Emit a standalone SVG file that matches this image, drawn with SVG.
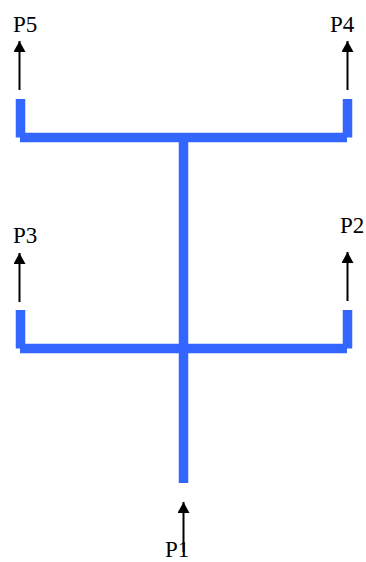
<svg xmlns="http://www.w3.org/2000/svg" width="366" height="562" viewBox="0 0 366 562">
<defs>
<style>
.pipe{stroke:#3366ff;stroke-width:9.5;fill:none;stroke-linecap:butt}
.arr{stroke:#000;stroke-width:2;fill:none}
.lbl{font-family:"Liberation Serif","Times New Roman",serif;font-size:23px;fill:#000}
</style>
<marker id="ah" markerUnits="userSpaceOnUse" markerWidth="11" markerHeight="12" refX="11" refY="6" orient="auto" viewBox="0 0 11 12">
<path d="M0,0 L11,6 L0,12 Z" fill="#000"/>
</marker>
</defs>
<g id="connectors">
<line class="pipe" x1="20.5" y1="99" x2="20.5" y2="137.5"/>
<line class="pipe" x1="20" y1="137.5" x2="347" y2="137.5"/>
<line class="pipe" x1="347.5" y1="99" x2="347.5" y2="137.5"/>
<line class="pipe" x1="20.5" y1="310" x2="20.5" y2="348.5"/>
<line class="pipe" x1="20" y1="348.5" x2="347" y2="348.5"/>
<line class="pipe" x1="347.5" y1="310" x2="347.5" y2="348.5"/>
<line class="pipe" x1="183.5" y1="142" x2="183.5" y2="483"/>
<line class="arr" x1="19.5" y1="90" x2="19.5" y2="41" marker-end="url(#ah)"/>
<line class="arr" x1="347.5" y1="90" x2="347.5" y2="41" marker-end="url(#ah)"/>
<line class="arr" x1="19.5" y1="302" x2="19.5" y2="253" marker-end="url(#ah)"/>
<line class="arr" x1="347.5" y1="301" x2="347.5" y2="252" marker-end="url(#ah)"/>
<line class="arr" x1="183.5" y1="552" x2="183.5" y2="502" marker-end="url(#ah)"/>
</g>
<g id="P5"><text class="lbl" x="13" y="32">P5</text></g>
<g id="P4"><text class="lbl" x="330" y="32">P4</text></g>
<g id="P3"><text class="lbl" x="13" y="243">P3</text></g>
<g id="P2"><text class="lbl" x="340" y="233">P2</text></g>
<g id="P1"><text class="lbl" x="165" y="557">P1</text></g>
</svg>
